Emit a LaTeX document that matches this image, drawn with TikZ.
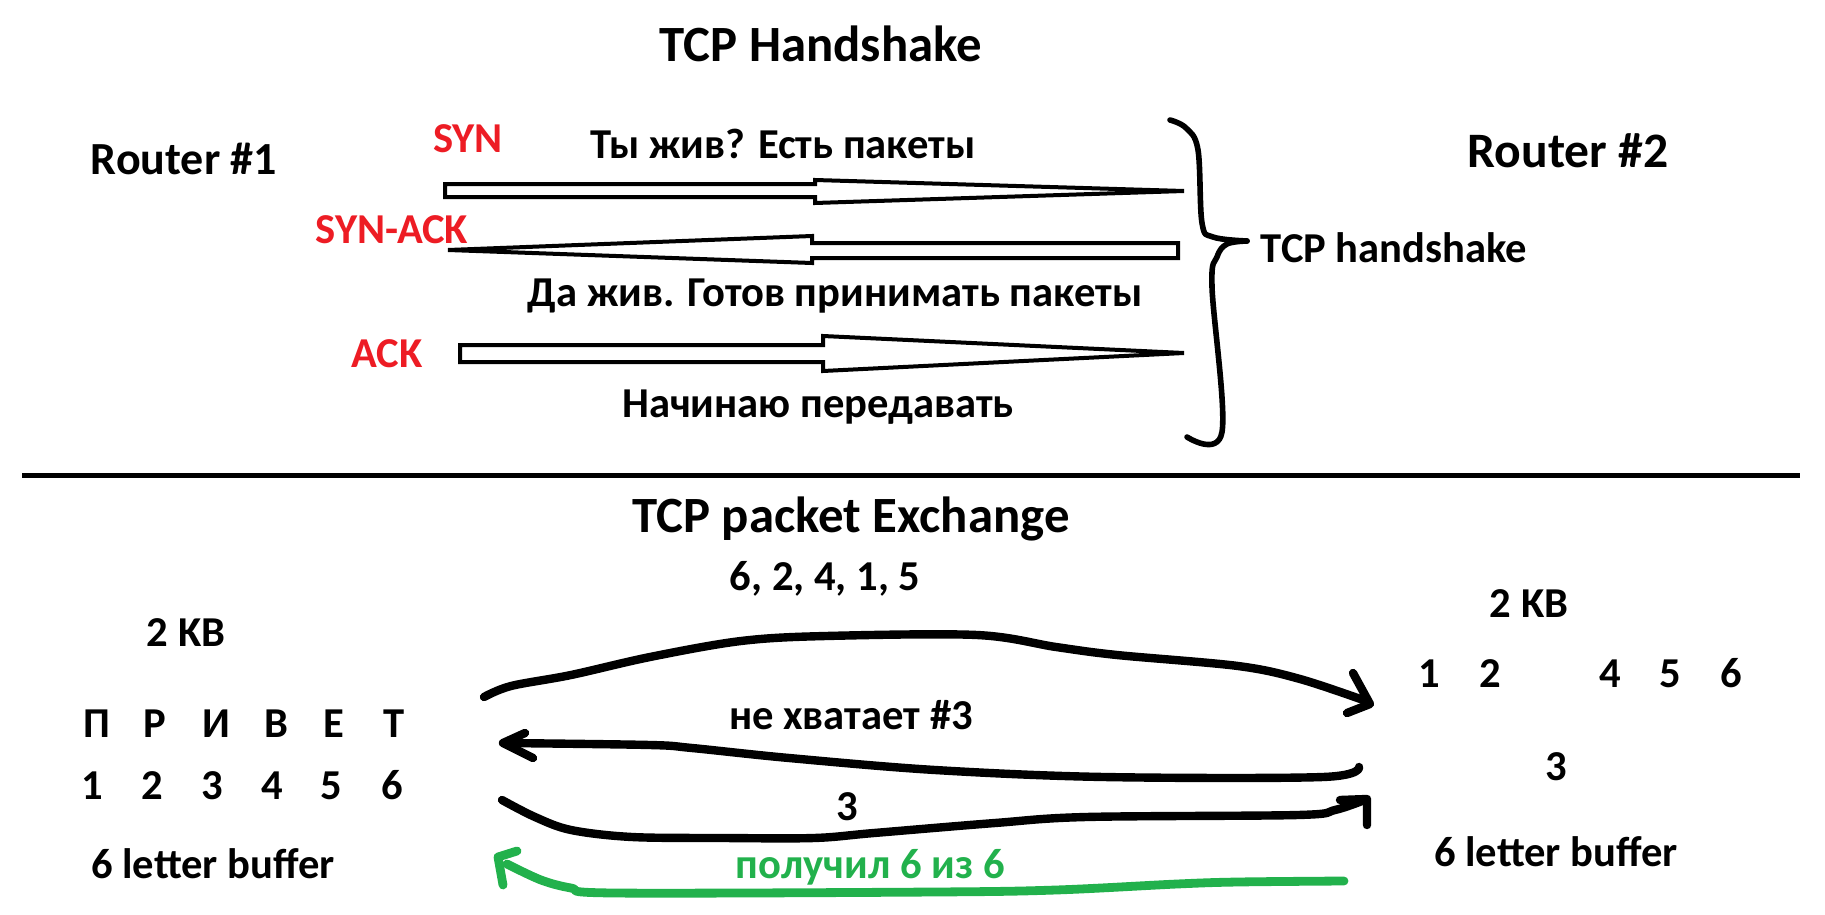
\documentclass[tikz,border=0pt]{standalone}
\usepackage{fontspec}
\setmainfont{Carlito}
\definecolor{pred}{HTML}{ED1C24}
\definecolor{pgreen}{HTML}{22B14C}
\begin{document}
\begin{tikzpicture}[x=0.5pt,y=-0.5pt,
  txt/.style={font=\fontsize{21.3}{25}\selectfont\bfseries, inner sep=0pt, anchor=base},
  big/.style={txt, font=\fontsize{25.4}{30}\selectfont\bfseries},
  redtxt/.style={txt, text=pred},
  greentxt/.style={txt, text=pgreen},
  blockarrow/.style={draw=black, line width=2pt, fill=white},
  hand/.style={draw=black, line width=4.2pt, line cap=round, line join=round},
  greenhand/.style={hand, draw=pgreen, line width=4.4pt},
  bracestyle/.style={draw=black, line width=2.8pt, line cap=round, line join=round},
]
\useasboundingbox (0,0) rectangle (1825,915);

% ---------- Top: TCP handshake ----------
\node[big] (t1) at (821,62) {TCP Handshake};
\node[txt, font=\fontsize{23}{27}\selectfont\bfseries] (r1) at (184,175) {Router \#1};
\node[txt, font=\fontsize{24.8}{29}\selectfont\bfseries] (r2) at (1568,168) {Router \#2};

\node[redtxt] (syn) at (468,152) {SYN};
\node[txt] (m1) at (783,158) {Ты жив? Есть пакеты};
\node[redtxt] (synack) at (392,243) {SYN-ACK};
\node[txt] (m2) at (835,306) {Да жив. Готов принимать пакеты};
\node[redtxt] (ack) at (387,367) {ACK};
\node[txt] (m3) at (818,417) {Начинаю передавать};
\node[txt] (hs) at (1394,262) {TCP handshake};

% block arrows
\draw[blockarrow] (445,184) -- (815,184) -- (815,180) -- (1184,191) -- (815,203) -- (815,197) -- (445,197) -- cycle;
\draw[blockarrow] (1178,243) -- (812,243) -- (812,236) -- (448,250) -- (812,263) -- (812,258) -- (1178,258) -- cycle;
\draw[blockarrow] (460,345) -- (823,345) -- (823,336) -- (1184,353) -- (823,371) -- (823,362) -- (460,362) -- cycle;

% brace
\coordinate (bt) at (1170,120);
\coordinate (bp) at (1247,241);
\coordinate (bb) at (1187,437);
\draw[bracestyle] plot[smooth, tension=0.6] coordinates {(bt) (1186,128) (1198,150) (1202,223) (1213,237) (bp)};
\draw[bracestyle] plot[smooth, tension=0.6] coordinates {(bp) (1227,244) (1217,257) (1212,287) (1222,432) (bb)};

% separator
\draw[line width=2.6pt] (22,475.5) -- (1800,475.5);

% ---------- Bottom: packet exchange ----------
\node[big] (t2) at (851,532) {TCP packet Exchange};
\node[txt] (seq) at (825,590) {6, 2, 4, 1, 5};
\node[txt] (kbR) at (1529,617) {2 KB};
\node[txt] (kbL) at (186,646) {2 KB};

\foreach \ch/\x [count=\i] in {П/97, Р/155, И/216, В/276, Е/334, Т/394}
  \node[txt] (L\i) at (\x,737) {\ch};
\foreach \d/\x in {1/92, 2/152, 3/212, 4/272, 5/331, 6/392}
  \node[txt] (N\d) at (\x,799) {\d};
\foreach \d/\x in {1/1429, 2/1490, 4/1610, 5/1670, 6/1731}
  \node[txt] (R\d) at (\x,687) {\d};

\node[txt] (bufL) at (213,878) {6 letter buffer};
\node[txt] (bufR) at (1556,866) {6 letter buffer};
\node[txt] (three) at (1556,780) {3};
\node[txt] (miss) at (851,729) {не хватает \#3};
\node[txt] (threem) at (847,820) {3};
\node[greentxt] (got) at (870,878) {получил 6 из 6};

% hand-drawn curves
\coordinate (c1s) at (484,697);
\coordinate (c1e) at (1366,701);
\draw[hand] plot[smooth, tension=0.55] coordinates {(c1s) (511,686) (571,675) (650,657) (741,641) (826,636) (977,635) (1056,647) (1117,655) (1238,666) (1300,679) (c1e)};
\draw[hand] (1353,673) -- (1370,704) -- (1347,713);

\coordinate (c2s) at (1359,767);
\coordinate (c2e) at (505,743);
\draw[hand] plot[smooth, tension=0.55] coordinates {(c2s) (1323,777) (1104,777) (935,770) (789,758) (692,748) (650,745) (c2e)};
\draw[hand] (525,733) -- (503,743) -- (533,758);

\coordinate (c3s) at (502,800);
\coordinate (c3e) at (1362,801);
\draw[hand] plot[smooth, tension=0.55] coordinates {(c3s) (535,817) (571,830) (632,837) (723,838) (814,838) (874,833) (995,823) (1086,817) (1298,815) (1335,810) (c3e)};
\draw[hand] (1340,800) -- (1367,799) -- (1367,825);

\coordinate (c4s) at (1344,881);
\coordinate (c4e) at (507,864);
\draw[greenhand] plot[smooth, tension=0.55] coordinates {(c4s) (1238,882) (1177,884) (1056,890) (935,892) (614,893) (571,888) (541,880) (c4e)};
\draw[greenhand] (503,885) -- (498,857) -- (517,851);
\end{tikzpicture}
\end{document}
